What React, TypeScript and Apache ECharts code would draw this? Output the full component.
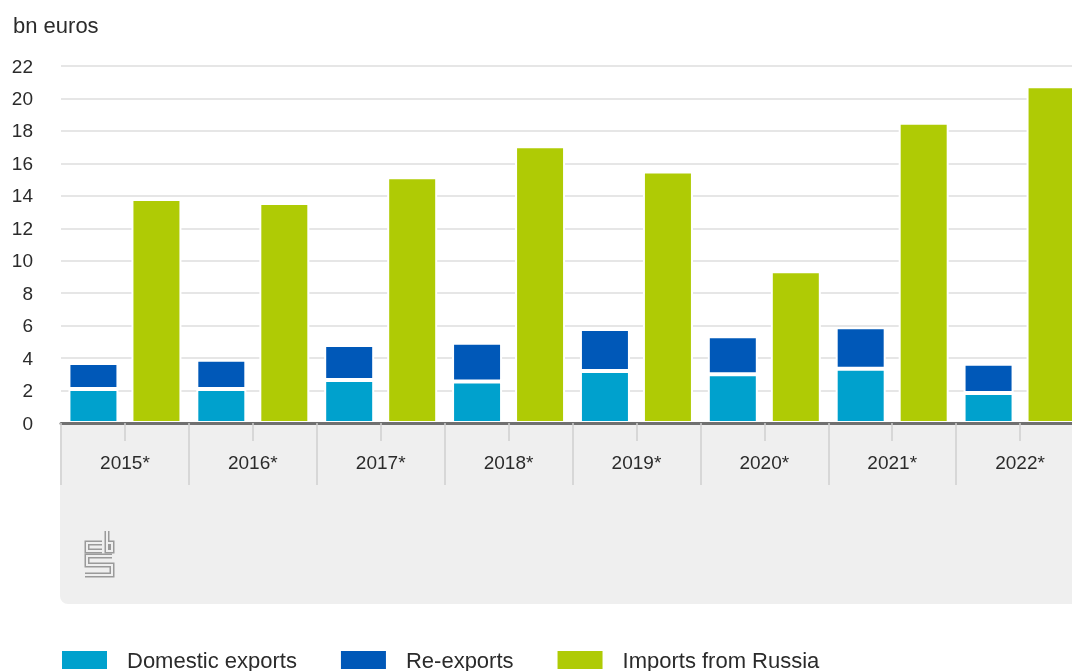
import React, { useEffect, useRef } from "react";
import * as echarts from "echarts";

const years = ["2015*", "2016*", "2017*", "2018*", "2019*", "2020*", "2021*", "2022*"];
const domesticExports = [2.1, 2.1, 2.65, 2.55, 3.2, 3.0, 3.35, 1.85];
const reExports = [1.6, 1.8, 2.15, 2.4, 2.6, 2.35, 2.55, 1.8];
const importsFromRussia = [13.8, 13.55, 15.15, 17.05, 15.5, 9.35, 18.5, 20.75];
const yTicks = { min: 0, max: 22, interval: 2 };

const FONT = "'Liberation Sans', Arial, sans-serif";
const TEXT = "#2b2b2b";

export default function App() {
  const ref = useRef<HTMLDivElement>(null);
  useEffect(() => {
    if (!ref.current) return;
    const chart = echarts.init(ref.current, null, { renderer: "svg" });
    const logoStroke = (points: number[][], w: number, c: string) => ({
      type: "polyline",
      shape: { points },
      style: { stroke: c, lineWidth: w, fill: null, lineJoin: "miter", lineCap: "butt" },
      z: -50,
    });
    const logoPaths = [
      [[17, 12], [2, 12], [2, 20], [17, 20]],
      [[22, 0], [22, 20], [27, 20], [27, 12], [22, 12]],
      [[27, 25], [2, 25], [2, 34], [27, 34], [27, 44], [0, 44]],
    ];
    const logoChildren: any[] = [];
    logoPaths.forEach((p) => logoChildren.push(logoStroke(p, 5, "#9a9a9a")));
    logoPaths.forEach((p) => logoChildren.push(logoStroke(p, 2, "#efefef")));

    chart.setOption({
      animation: false,
      textStyle: { fontFamily: FONT },
      grid: { left: 61, right: 6, top: 66, bottom: 248, containLabel: false },
      xAxis: [
        {
          type: "category",
          data: years,
          z: 5,
          axisLine: { show: true, lineStyle: { color: "#707070", width: 3 } },
          axisTick: { show: true, length: 62, lineStyle: { color: "#cfcfcf", width: 1.5 } },
          axisLabel: { margin: 30, fontSize: 19, color: TEXT, fontFamily: FONT },
          splitLine: { show: false },
        },
        {
          type: "category",
          data: years,
          position: "bottom",
          z: 5,
          axisLine: { show: false },
          axisTick: { show: true, alignWithLabel: true, length: 18, lineStyle: { color: "#cfcfcf", width: 1.5 } },
          axisLabel: { show: false },
          splitLine: { show: false },
        },
      ],
      yAxis: {
        type: "value",
        min: yTicks.min,
        max: yTicks.max,
        interval: yTicks.interval,
        axisLine: { show: false },
        axisTick: { show: false },
        axisLabel: { margin: 28, fontSize: 19, color: TEXT, fontFamily: FONT },
        splitLine: { lineStyle: { color: "#dedede", width: 1.5 } },
      },
      legend: {
        left: 57,
        top: 644,
        itemWidth: 45,
        itemHeight: 18,
        itemGap: 44,
        icon: "rect",
        itemStyle: { borderWidth: 0 },
        textStyle: { fontSize: 22, color: TEXT, fontFamily: FONT, padding: [0, 0, 0, 15] },
        data: ["Domestic exports", "Re-exports", "Imports from Russia"],
      },
      graphic: [
        {
          type: "rect",
          shape: { x: 60, y: 425, width: 1040, height: 179, r: [0, 0, 0, 8] },
          style: { fill: "#efefef" },
          z: -100,
          silent: true,
        },
        {
          type: "text",
          x: 13,
          y: 25,
          style: { text: "bn euros", fontSize: 22, fill: TEXT, fontFamily: FONT, verticalAlign: "middle" },
        },
        { type: "group", x: 85, y: 531, children: logoChildren },
      ],
      series: [
        {
          name: "Domestic exports",
          type: "bar",
          stack: "exports",
          data: domesticExports,
          barWidth: 50,
          barGap: "26%",
          itemStyle: { color: "#00a1cd", borderColor: "#ffffff", borderWidth: 2 },
        },
        {
          name: "Re-exports",
          type: "bar",
          stack: "exports",
          data: reExports,
          barWidth: 50,
          barGap: "26%",
          itemStyle: { color: "#0058b8", borderColor: "#ffffff", borderWidth: 2 },
        },
        {
          name: "Imports from Russia",
          type: "bar",
          data: importsFromRussia,
          barWidth: 50,
          barGap: "26%",
          itemStyle: { color: "#afcb05", borderColor: "#ffffff", borderWidth: 2 },
        },
      ],
    });
    return () => chart.dispose();
  }, []);
  return (
    <div style={{ position: "fixed", left: 0, top: 0, width: 1072, height: 671, overflow: "hidden" }}>
      <div ref={ref} style={{ width: 1090, height: 671 }} />
    </div>
  );
}
